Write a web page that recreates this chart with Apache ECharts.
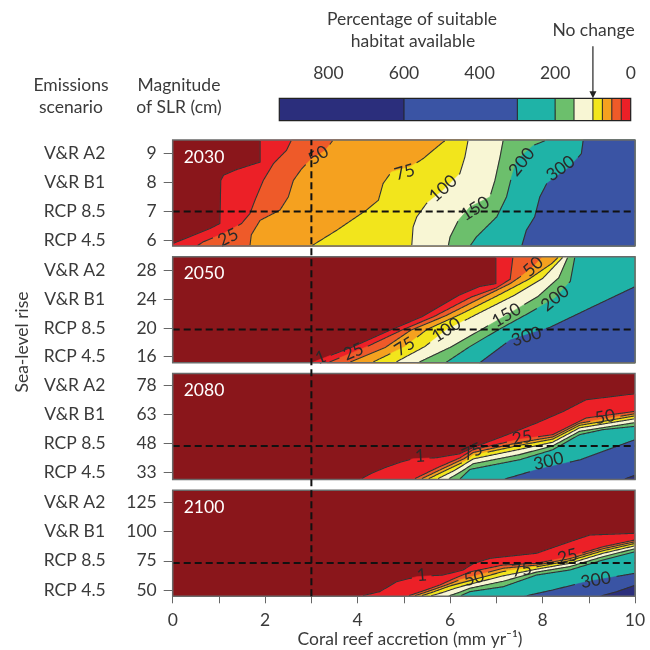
<!DOCTYPE html>
<html><head><meta charset="utf-8">
<script src="https://cdn.jsdelivr.net/npm/echarts@6/dist/echarts.min.js"></script>
<style>html,body{margin:0;padding:0;background:#fff}#c{width:650px;height:650px}</style>
</head><body><div id="c"></div>
<script>
const FONT = 'Lato, "Noto Sans", sans-serif';
const TXT = '#3a3a3a';
const FS = 17.5;

// ---------- data ----------
const years = ['2030', '2050', '2080', '2100'];
const scenarioNames = ['RCP 4.5', 'RCP 8.5', 'V&R B1', 'V&R A2'];
const slrTicks = [[6, 7, 8, 9], [16, 20, 24, 28], [33, 48, 63, 78], [50, 75, 100, 125]];
const slrRange = [[5.818, 9.457], [15.15, 29.94], [29.29, 83.93], [44.61, 135.26]];
const rcp85Slr = [7, 19.8, 46.5, 73];
const accretionRange = [0, 10];
const accretionRef = 3;
const levels = [1, 25, 50, 75, 100, 150, 200, 300, 600];
const colorbarEdges = [930, 600, 300, 200, 150, 100, 75, 50, 25, 1, 0];
const colorbarTicks = [800, 600, 400, 200, 0];
const noChangeLevel = 100;

// contour boundaries [accretion, SLR] per level (region beyond the line has >= level)
const contours2030 = {
  1:   [[0, 5.9], [0.09, 5.96], [0.45, 6.19], [0.81, 6.42], [1.02, 6.59], [1.04, 8.07], [1.10, 8.25], [1.38, 8.44], [1.89, 8.70], [1.89, 9.457]],
  25:  [[0.52, 5.818], [0.66, 5.96], [1.10, 6.25], [1.49, 6.59], [1.67, 6.93], [1.78, 7.39], [1.96, 8.07], [2.18, 8.65], [2.46, 9.1], [2.57, 9.457]],
  50:  [[1.67, 5.818], [1.70, 6.2], [1.89, 6.70], [2.32, 7.05], [2.50, 7.50], [2.61, 8.07], [2.79, 8.47], [2.97, 8.76], [3.30, 9.1], [3.47, 9.457]],
  75:  [[3.0, 5.818], [3.55, 6.36], [4.19, 7.05], [4.45, 7.39], [4.55, 7.96], [4.73, 8.36], [5.13, 8.53], [5.42, 8.82], [5.63, 9.10], [5.85, 9.39], [5.92, 9.457]],
  100: [[5.17, 5.818], [5.20, 6.47], [5.28, 6.82], [5.49, 7.28], [5.85, 7.73], [6.21, 8.30], [6.32, 8.87], [6.39, 9.457]],
  150: [[5.96, 5.818], [6.0, 6.13], [6.18, 6.70], [6.43, 7.16], [6.86, 7.50], [6.97, 8.07], [7.08, 8.87], [7.15, 9.457]],
  200: [[6.43, 5.818], [6.57, 6.13], [7.01, 6.82], [7.22, 7.50], [7.33, 8.19], [7.44, 8.76], [7.80, 9.27], [8.09, 9.457]],
  300: [[7.55, 5.818], [7.65, 6.36], [7.83, 6.82], [7.94, 7.50], [8.09, 7.96], [8.59, 8.53], [8.84, 8.99], [8.88, 9.457]]
};
const contours2050 = {
  1:   [[3.0, 15.15], [3.9, 17.4], [4.7, 19.7], [5.4, 21.6], [6.2, 24.6], [6.64, 25.8], [6.99, 26.2], [6.99, 29.94]],
  25:  [[3.35, 15.15], [4.2, 17.4], [4.95, 19.7], [5.65, 21.6], [6.45, 24.3], [7.0, 25.6], [7.3, 26.8], [7.36, 29.94]],
  50:  [[3.8, 15.15], [4.6, 17.3], [5.15, 19.7], [5.9, 21.7], [6.7, 24.3], [7.3, 26.2], [7.55, 27.3], [7.8, 28.56], [8.0, 29.94]],
  75:  [[4.3, 15.15], [5.02, 17.4], [5.5, 19.8], [6.25, 22], [7.05, 24.6], [7.7, 26.8], [8.2, 29.0], [8.35, 29.94]],
  100: [[4.8, 15.15], [5.45, 17.4], [5.92, 19.73], [6.6, 22], [7.4, 24.6], [8.0, 26.9], [8.45, 29.94]],
  150: [[5.3, 15.15], [6.0, 17.3], [6.6, 19.5], [7.22, 21.8], [7.9, 24.4], [8.35, 27], [8.55, 29.94]],
  200: [[5.9, 15.15], [6.4, 17.3], [7.0, 19.6], [7.65, 21.9], [8.27, 24.15], [8.6, 26.5], [8.7, 29.94]],
  300: [[6.64, 15.15], [7.3, 18.33], [8.16, 20.1], [9.09, 22.98], [10, 25.77]]
};
const contours2080 = {
  1:   [[4.05, 29.29], [4.3, 32.5], [4.6, 35.5], [4.9, 38], [5.2, 40], [5.7, 40.5], [6.2, 42.5], [6.5, 45.8], [7.15, 51.6], [7.87, 58.4], [8.45, 64.4], [8.94, 70.4], [10, 73.5]],
  25:  [[5.2, 29.29], [5.71, 35.2], [6.21, 40.4], [6.5, 44.7], [7.5, 50.0], [8.22, 52.4], [8.58, 56.7], [8.8, 59.3], [8.94, 61], [10, 64.4]],
  50:  [[5.35, 29.29], [5.85, 35], [6.3, 40], [6.5, 43.2], [7.5, 48.4], [8.22, 51.2], [8.8, 58.3], [10, 63.2]],
  75:  [[5.5, 29.29], [5.95, 34.5], [6.35, 39], [6.5, 41.8], [7.5, 46.9], [8.22, 50.1], [8.8, 57.2], [10, 62.1]],
  100: [[5.7, 29.29], [6.1, 34], [6.5, 39.9], [7.5, 44.8], [8.22, 48.5], [8.8, 55.9], [10, 60.6]],
  150: [[5.95, 29.29], [6.25, 33.5], [6.5, 37.4], [7.5, 42.1], [8.22, 46.6], [8.8, 54.1], [10, 58.6]],
  200: [[6.2, 29.29], [6.43, 34.5], [7.51, 39.5], [8.22, 44.6], [8.8, 52.4], [9.31, 55], [10, 56.7]],
  300: [[7.15, 29.29], [7.87, 34.3], [8.82, 39.5], [9.31, 43.8], [10, 49.8]],
  600: [[9.75, 29.29], [10, 31.5]]
};
const contours2100 = {
  1:   [[4.05, 44.61], [4.48, 48.6], [4.84, 57.1], [5.28, 61.4], [5.85, 62.8], [6.28, 67.1], [6.5, 72.5], [6.86, 77.1], [7.87, 81.4], [8.59, 91.3], [9.02, 97], [10, 98.5]],
  25:  [[5.07, 44.61], [5.4, 49], [5.78, 54.3], [6.1, 60], [6.43, 65.5], [7.15, 71.4], [7.87, 72.8], [8.59, 78.5], [9.31, 87], [10, 92.8]],
  50:  [[5.2, 44.61], [5.5, 48.5], [5.9, 54], [6.2, 58.5], [6.43, 61], [7.15, 68.6], [7.87, 71.3], [8.59, 76.8], [9.31, 85.3], [10, 91.3]],
  75:  [[5.35, 44.61], [5.65, 48.5], [6.0, 53.5], [6.43, 58], [7.15, 65.8], [7.87, 69.8], [8.59, 75.1], [9.31, 83.6], [10, 89.8]],
  100: [[5.55, 44.61], [5.85, 48], [6.15, 52], [6.43, 55], [7.15, 62.1], [7.87, 67.8], [8.59, 72.8], [9.31, 81.4], [10, 87.8]],
  150: [[5.95, 44.61], [6.2, 48], [6.43, 51.5], [7.15, 57.5], [7.87, 65.3], [8.59, 70], [9.31, 78.5], [10, 85.3]],
  200: [[6.2, 44.61], [6.43, 48.6], [7.15, 52.8], [7.87, 62.8], [8.59, 67.1], [9.31, 75.7], [10, 82.7]],
  300: [[7.6, 44.61], [8.22, 50], [8.95, 57.1], [10, 64.3]],
  600: [[9.24, 44.61], [9.6, 48.5], [10, 54]]
};
// contour labels [level, accretion, SLR]
const labels2030 = [[25, 1.20, 6.11], [50, 3.15, 8.93], [75, 5.02, 8.35], [100, 5.85, 7.79], [150, 6.54, 7.10], [200, 7.55, 8.70], [300, 8.39, 8.48]];
const labels2050 = [[1, 3.2, 15.9], [25, 3.91, 16.7], [75, 5.02, 17.4], [100, 5.92, 19.73], [150, 7.22, 21.8], [200, 8.27, 24.15], [300, 7.65, 18.8], [50, 7.80, 28.56]];
const labels2080 = [[1, 5.35, 41.4], [75, 6.48, 43.5], [25, 7.56, 50.8], [50, 9.35, 61.5], [300, 8.13, 38.7]];
const labels2100 = [[1, 5.39, 62.8], [50, 6.52, 60.2], [75, 7.55, 67.1], [25, 8.54, 78.6], [300, 9.15, 58.5]];

// ---------- styles ----------
const levelColors = {0: '#8a161b', 1: '#ec2027', 25: '#ee5a29', 50: '#f5a11f', 75: '#f2e51c', 100: '#f8f6d4', 150: '#6cbf6c', 200: '#1fb3a7', 300: '#3a54a4', 600: '#2b2e7c'};
const panelContours = [contours2030, contours2050, contours2080, contours2100];
const panelLabels = [labels2030, labels2050, labels2080, labels2100];
const panelTops = [140, 256.8, 373.5, 490.3];
const PH = 106, PL = 172.7, PW = 462.3;

function densify(pts, step) {
  const out = [pts[0]];
  for (let i = 1; i < pts.length; i++) {
    const a = pts[i - 1], b = pts[i];
    const d = Math.hypot(b[0] - a[0], b[1] - a[1]);
    const n = Math.max(1, Math.ceil(d / step));
    for (let k = 1; k <= n; k++) out.push([a[0] + (b[0] - a[0]) * k / n, a[1] + (b[1] - a[1]) * k / n]);
  }
  return out;
}

function panelRender(pi) {
  const contours = panelContours[pi], labels = panelLabels[pi];
  return function (params, api) {
    const cs = params.coordSys;
    const L = cs.x, T = cs.y, R = cs.x + cs.width, B = cs.y + cs.height;
    const children = [];
    children.push({type: 'rect', shape: {x: L, y: T, width: cs.width, height: cs.height}, style: {fill: levelColors[0]}});
    const pix = {};
    levels.forEach(lv => {
      const pts = contours[lv];
      if (!pts) return;
      const px = pts.map(p => api.coord(p));
      pix[lv] = px;
      const first = px[0], last = px[px.length - 1];
      const poly = px.concat([[R, last[1]], [R, B], [first[0], B]]);
      children.push({type: 'polygon', shape: {points: poly}, style: {fill: levelColors[lv], stroke: levelColors[lv], lineWidth: 0.6}});
    });
    const labInfo = labels.map(l => {
      const c = api.coord([l[1], l[2]]);
      const txt = String(l[0]);
      return {lv: l[0], c, txt, r: txt.length * 5.5 + 4};
    });
    levels.forEach(lv => {
      if (!pix[lv]) return;
      const d = densify(pix[lv], 1);
      let seg = [];
      const flush = () => { if (seg.length > 1) children.push({type: 'polyline', shape: {points: seg}, style: {stroke: '#333', lineWidth: 1.1, fill: null}}); seg = []; };
      d.forEach(p => {
        const inGap = labInfo.some(li => li.lv === lv && Math.hypot(p[0] - li.c[0], p[1] - li.c[1]) < li.r);
        const onEdge = p[0] <= L + 0.5 || p[0] >= R - 0.5 || p[1] <= T + 0.5 || p[1] >= B - 0.5;
        if (inGap || onEdge) flush(); else seg.push(p);
      });
      flush();
    });
    labInfo.forEach(li => {
      let rot = 0;
      if (pix[li.lv]) {
        const d = densify(pix[li.lv], 1);
        let bi = 0, bd = 1e9;
        d.forEach((p, i) => { const dd = Math.hypot(p[0] - li.c[0], p[1] - li.c[1]); if (dd < bd) { bd = dd; bi = i; } });
        const a = d[Math.max(0, bi - 8)], b = d[Math.min(d.length - 1, bi + 8)];
        rot = Math.atan2(-(b[1] - a[1]), b[0] - a[0]);
        if (rot > Math.PI / 2) rot -= Math.PI;
        if (rot < -Math.PI / 2) rot += Math.PI;
      }
      children.push({type: 'text', x: li.c[0], y: li.c[1], rotation: rot,
        style: {text: li.txt, fontSize: FS, fontFamily: FONT, fill: '#2a2a2a', align: 'center', verticalAlign: 'middle'}});
    });
    const h1 = api.coord([accretionRange[0], rcp85Slr[pi]]), h2 = api.coord([accretionRange[1], rcp85Slr[pi]]);
    children.push({type: 'line', shape: {x1: h1[0], y1: h1[1], x2: h2[0], y2: h2[1]}, style: {stroke: '#111', lineWidth: 2, lineDash: [7, 4]}});
    children.push({type: 'text', x: L + 11, y: T + 17, style: {text: years[pi], fontSize: FS, fontFamily: FONT, fill: '#fff', align: 'left', verticalAlign: 'middle'}});
    children.push({type: 'rect', shape: {x: L, y: T, width: cs.width, height: cs.height}, style: {fill: null, stroke: '#6a6a6a', lineWidth: 1.5}});
    return {type: 'group', children};
  };
}

const grids = [], xAxes = [], yAxes = [], series = [];
for (let i = 0; i < 4; i++) {
  grids.push({left: PL, width: PW, top: panelTops[i], height: PH, outerBoundsMode: 'none'});
  xAxes.push({
    gridIndex: i, type: 'value', min: accretionRange[0], max: accretionRange[1], interval: 1,
    show: i === 3,
    axisLine: {show: true, lineStyle: {color: '#666'}},
    axisTick: {show: true, length: 7, lineStyle: {color: '#666'}},
    axisLabel: {show: true, interval: 1, margin: 15, fontSize: FS, fontFamily: FONT, color: TXT,
      formatter: v => (v % 2 === 0 ? String(v) : '')},
    splitLine: {show: false}
  });
  const ticks = slrTicks[i];
  yAxes.push({
    gridIndex: i, type: 'value', min: slrRange[i][0], max: slrRange[i][1],
    axisLine: {show: false},
    axisTick: {show: true, length: 9, customValues: ticks, lineStyle: {color: '#666'}},
    axisLabel: {show: true, customValues: ticks, margin: 16, fontSize: FS, fontFamily: FONT, color: TXT},
    splitLine: {show: false}
  });
  yAxes.push({
    gridIndex: i, type: 'value', min: slrRange[i][0], max: slrRange[i][1], position: 'left',
    axisLine: {show: false}, axisTick: {show: false}, splitLine: {show: false},
    axisLabel: {show: true, customValues: ticks, margin: 98, align: 'center', fontSize: FS, fontFamily: FONT, color: TXT,
      formatter: v => scenarioNames[ticks.indexOf(v)] || ''}
  });
  series.push({
    type: 'custom', xAxisIndex: i, yAxisIndex: 2 * i, silent: true, animation: false, z: 2,
    data: [[accretionRange[0], slrRange[i][0]]],
    renderItem: panelRender(i)
  });
}
grids.push({left: PL, width: PW, top: panelTops[0], height: panelTops[3] + PH - panelTops[0], outerBoundsMode: 'none'});
xAxes.push({gridIndex: 4, type: 'value', min: accretionRange[0], max: accretionRange[1], show: false});
yAxes.push({gridIndex: 4, type: 'value', min: 0, max: 1, show: false});
series.push({
  type: 'custom', xAxisIndex: 4, yAxisIndex: 8, silent: true, animation: false, z: 10,
  data: [[accretionRef, 0]],
  renderItem: function (params, api) {
    const a = api.coord([api.value(0), 0]), b = api.coord([api.value(0), 1]);
    return {type: 'line', shape: {x1: a[0], y1: a[1], x2: b[0], y2: b[1]}, style: {stroke: '#111', lineWidth: 2, lineDash: [7, 4]}};
  }
});
grids.push({left: 279.3, width: 351.4, top: 98.3, height: 22.4, outerBoundsMode: 'none'});
xAxes.push({
  gridIndex: 5, type: 'value', min: 0, max: colorbarEdges[0], inverse: true, position: 'top',
  axisLine: {show: false},
  axisTick: {show: true, length: 11, customValues: colorbarTicks, lineStyle: {color: '#555'}},
  axisLabel: {show: true, customValues: colorbarTicks, margin: 16, fontSize: FS, fontFamily: FONT, color: TXT},
  splitLine: {show: false}
});
yAxes.push({gridIndex: 5, type: 'value', min: 0, max: 1, show: false});
const cbColorKeys = [600, 300, 200, 150, 100, 75, 50, 25, 1, 0];
series.push({
  type: 'custom', xAxisIndex: 5, yAxisIndex: 9, silent: true, animation: false, z: 3,
  data: [[0, 0]],
  renderItem: function (params, api) {
    const ch = [];
    for (let k = 0; k < colorbarEdges.length - 1; k++) {
      const a = api.coord([colorbarEdges[k], 1]), b = api.coord([colorbarEdges[k + 1], 0]);
      ch.push({type: 'rect', shape: {x: a[0], y: a[1], width: b[0] - a[0], height: b[1] - a[1]}, style: {fill: levelColors[cbColorKeys[k]]}});
    }
    for (let k = 1; k < colorbarEdges.length - 2; k++) {
      const a = api.coord([colorbarEdges[k], 1]), b = api.coord([colorbarEdges[k], 0]);
      ch.push({type: 'line', shape: {x1: a[0], y1: a[1], x2: b[0], y2: b[1]}, style: {stroke: '#222', lineWidth: 1}});
    }
    const a = api.coord([colorbarEdges[0], 1]), b = api.coord([0, 0]);
    ch.push({type: 'rect', shape: {x: a[0], y: a[1], width: b[0] - a[0], height: b[1] - a[1]}, style: {fill: null, stroke: '#222', lineWidth: 1.2}});
    const p = api.coord([noChangeLevel, 1]);
    ch.push({type: 'line', shape: {x1: p[0], y1: p[1] - 52, x2: p[0], y2: p[1] - 6}, style: {stroke: '#222', lineWidth: 1.2}});
    ch.push({type: 'polygon', shape: {points: [[p[0] - 3.5, p[1] - 7], [p[0] + 3.5, p[1] - 7], [p[0], p[1]]]}, style: {fill: '#222'}});
    ch.push({type: 'text', x: p[0] + 0.6, y: p[1] - 67.6, style: {text: 'No change', fontSize: FS, fontFamily: FONT, fill: TXT, align: 'center', verticalAlign: 'middle'}});
    return {type: 'group', children: ch};
  }
});

const txt = (x, y, s, extra) => Object.assign({type: 'text', x, y, style: {text: s, fontSize: FS, fontFamily: FONT, fill: TXT, align: 'center', verticalAlign: 'middle'}}, extra || {});
const chart = echarts.init(document.getElementById('c'), null, {renderer: 'canvas'});
chart.setOption({
  animation: false,
  backgroundColor: '#fff',
  grid: grids, xAxis: xAxes, yAxis: yAxes, series,
  graphic: [
    txt(412, 19.3, 'Percentage of suitable'),
    txt(413, 41.7, 'habitat available'),
    txt(71, 85, 'Emissions'),
    txt(71, 107, 'scenario'),
    txt(179, 85, 'Magnitude'),
    txt(179, 107, 'of SLR (cm)'),
    txt(22, 342, 'Sea-level rise', {rotation: Math.PI / 2}),
    txt(410, 639, 'Coral reef accretion (mm yr\u207B\u00B9)')
  ]
});
</script></body></html>
